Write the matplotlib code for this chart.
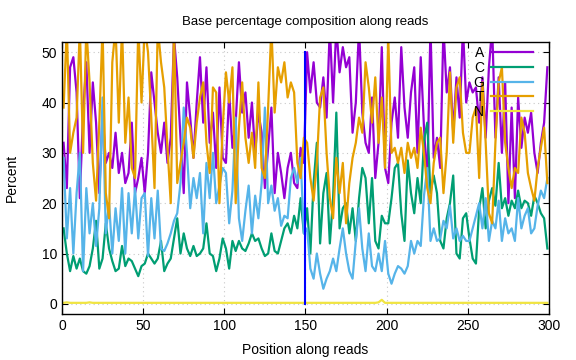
import numpy as np
import matplotlib
matplotlib.use("Agg")
import matplotlib.pyplot as plt

plt.rcParams['font.family'] = ['Liberation Sans', 'DejaVu Sans']
plt.rcParams['font.size'] = 10

# read positions (every 2nd position)
positions = np.arange(1, 301, 2)

base_a = [32, 23, 47, 49, 42, 21, 38, 48, 30, 44, 36, 22, 38, 28, 30, 27, 34, 26, 30, 24, 26, 36, 22, 25, 29,
          22, 30, 46, 40, 34, 30, 36, 28, 33, 53, 45, 33, 22, 44, 37, 29, 40, 49, 36, 47, 32, 38, 27, 43, 29,
          28, 42, 31, 36, 48, 38, 42, 33, 40, 30, 38, 34, 23, 31, 39, 22, 30, 26, 21, 27, 30, 24, 23, 31, 28,
          50, 42, 48, 40, 39, 45, 37, 55, 40, 55, 46, 51, 47, 49, 34, 40, 55, 38, 32, 30, 41, 25, 32, 51, 27,
          24, 36, 41, 33, 51, 39, 33, 42, 47, 30, 49, 35, 24, 55, 29, 33, 27, 55, 42, 47, 34, 45, 37, 55, 40,
          44, 42, 43, 36, 45, 33, 47, 55, 33, 45, 30, 44, 20, 39, 21, 41, 31, 37, 34, 38, 30, 26, 32, 36, 47]

base_c = [15, 10, 6.5, 9.5, 7, 9, 6.5, 6, 7.5, 11, 16.5, 7, 9, 16, 11, 8.5, 6.5, 7, 11.5, 7.5, 9, 8.5, 7, 5.5, 7.5,
          8, 10, 9, 8, 9, 12.5, 6.5, 8, 9, 13, 17, 10, 14, 11, 9.5, 11.5, 9.5, 10, 11, 16, 10, 9.5, 6.5, 9, 13,
          11, 7, 12.5, 10.5, 12.5, 11, 10.5, 12, 14, 12.5, 13, 11, 9.5, 10, 14, 10.5, 10, 12.5, 15, 16, 14, 17.5, 15, 21, 14,
          19, 10, 24, 32, 12, 22, 26, 12, 21, 38, 15, 19, 20, 14, 19, 12.5, 21, 27, 25, 16, 25, 12.5, 11, 17.5, 16,
          16, 21, 27, 28, 18, 12.5, 28.5, 22, 18, 25, 20, 32.5, 36, 22, 25.5, 22, 12.5, 11, 17, 20, 25.5, 10, 9, 17, 18,
          13, 9, 8, 19, 23, 15, 20.5, 23, 19.5, 28, 19, 21, 17.5, 20.5, 19, 22.5, 19, 20.5, 20, 17.5, 21.5, 20, 18, 17, 11]

base_g = [29, 13, 23, 10, 22, 30, 6.5, 23, 14, 20, 11.5, 19, 41, 14, 20, 10, 19, 12.5, 23, 10, 22, 14, 23, 13, 21,
          22, 9.5, 21, 13, 22.5, 11, 10.5, 12, 14, 16.5, 18, 24, 39, 30, 19, 25, 21, 26, 14, 28, 21, 30, 20, 23.5, 27,
          26, 16, 22.5, 37, 17, 12.5, 18.5, 23.5, 14, 21.5, 17, 24, 39, 20, 23.5, 18.5, 21, 15.5, 17.5, 17, 25, 27, 24, 29, 14,
          15, 7, 5, 10, 6, 3, 5, 6.5, 9, 6.5, 11, 15, 10, 6.5, 5, 12.5, 19, 11, 6.5, 14, 7.5, 6.5, 10, 6.5, 12.5,
          6, 4, 6, 7.5, 7, 6, 7.5, 12.5, 10, 12.5, 11.5, 21.5, 27, 12.5, 15, 12.5, 13, 16.5, 15, 19.5, 13, 15, 12.5, 13.5, 12.5,
          12.5, 15, 17.5, 20, 15, 21, 12.5, 16.5, 15, 20.5, 12.5, 17, 14, 15, 12.5, 21, 15, 17.5, 19, 14, 15, 19.5, 22.5, 21, 25]

base_t = [39, 55, 30, 34, 37, 55, 30, 55, 44, 28, 20.5, 36, 55, 22, 17, 48, 55, 36, 55, 32, 41, 27, 25, 55, 40,
          55, 50, 37, 23, 55, 48, 43, 31, 20, 55, 24, 28, 32, 37, 35, 29, 36, 41, 44, 32, 26, 43, 42, 20, 35,
          46, 40, 47, 20, 35, 44, 33, 28, 34, 27, 44, 27, 25, 39, 55, 38, 47, 44, 48, 41, 44, 42, 28, 25, 33,
          32, 25, 20.5, 28, 41, 43, 30, 21, 17, 29, 22, 28, 16, 24, 29, 32, 37, 34, 48, 43, 36, 45, 32, 41, 27,
          53, 30, 31, 28, 31, 26, 32, 29, 31, 27, 35, 30, 23, 20, 28, 32, 33, 22, 30, 46, 32, 43, 45, 34, 30,
          30, 37, 39, 25, 44, 32, 18, 16, 32, 44, 47, 32, 27, 23, 27, 26, 37, 34, 26, 23, 20.5, 27, 31, 35, 24]

base_n = [0.2, 0.3, 0.2, 0.2, 0.2, 0.2, 0.2, 0.2, 0.3, 0.2, 0.2, 0.2, 0.2, 0.2, 0.2, 0.2, 0.2, 0.2, 0.2, 0.2, 0.2, 0.2, 0.2, 0.2, 0.2,
          0.2, 0.2, 0.2, 0.2, 0.2, 0.2, 0.2, 0.2, 0.2, 0.2, 0.2, 0.2, 0.2, 0.2, 0.2, 0.2, 0.2, 0.2, 0.2, 0.2, 0.2, 0.2, 0.2, 0.2, 0.2,
          0.2, 0.2, 0.2, 0.2, 0.2, 0.2, 0.2, 0.2, 0.2, 0.2, 0.2, 0.2, 0.2, 0.2, 0.2, 0.2, 0.2, 0.2, 0.2, 0.2, 0.2, 0.2, 0.2, 0.2, 0.2,
          0.2, 0.2, 0.2, 0.2, 0.2, 0.2, 0.2, 0.2, 0.2, 0.2, 0.2, 0.2, 0.2, 0.2, 0.2, 0.2, 0.2, 0.2, 0.2, 0.2, 0.2, 0.2, 0.3, 0.8, 0.2,
          0.2, 0.2, 0.2, 0.2, 0.2, 0.2, 0.2, 0.2, 0.2, 0.2, 0.2, 0.2, 0.2, 0.2, 0.2, 0.2, 0.2, 0.2, 0.2, 0.2, 0.2, 0.2, 0.2, 0.2, 0.2,
          0.2, 0.2, 0.2, 0.2, 0.2, 0.2, 0.2, 0.2, 0.2, 0.2, 0.2, 0.2, 0.2, 0.2, 0.2, 0.2, 0.2, 0.2, 0.2, 0.2, 0.2, 0.2, 0.2, 0.2, 0.2]

bases = ["A", "C", "G", "T", "N"]
colors = ["#9400d3", "#009e73", "#56b4e9", "#e69f00", "#f0e442"]

# read 1 / read 2 boundary
split_x = [150, 150]
split_y = [0, 50]

fig = plt.figure(figsize=(5.76, 3.6), dpi=100)
ax = fig.add_axes([0.1076, 0.128, 0.8455, 0.755])

for name, vals, col in zip(bases, [base_a, base_c, base_g, base_t, base_n], colors):
    ax.plot(positions, vals, color=col, lw=1.6, label=name)

ax.plot(split_x, split_y, color="#0000ff", lw=1.5)

ax.set_xlim(0, 300)
ax.set_ylim(-2, 52)
ax.set_xticks(range(0, 301, 50))
ax.set_yticks(range(0, 51, 10))
ax.tick_params(direction="in", top=True, right=True, length=4)
ax.grid(True, color="#c8c8c8", linestyle=(0, (1, 3)), lw=0.8)
for s in ax.spines.values():
    s.set_linewidth(1.0)

ax.set_title("Base percentage composition along reads", fontsize=9.5, pad=12)
ax.set_xlabel("Position along reads", labelpad=7)
ax.set_ylabel("Percent", labelpad=16)

ax.legend(loc="upper right", bbox_to_anchor=(0.967, 0.985), frameon=False,
          markerfirst=False, handlelength=3.0, handletextpad=0.5,
          labelspacing=0.05, borderpad=0, borderaxespad=0)

fig.savefig("out.png", dpi=100)
